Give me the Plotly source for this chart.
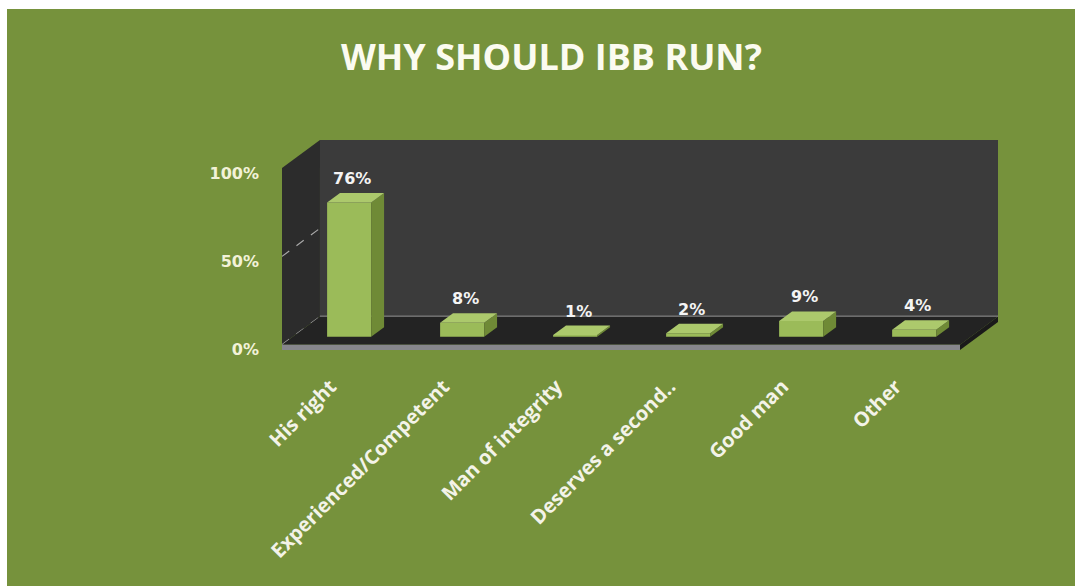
import plotly.graph_objects as go

# Survey answers and their shares (percent)
categories = ["His right", "Experienced/Competent", "Man of integrity",
              "Deserves a second..", "Good man", "Other"]
shares = [76, 8, 1, 2, 9, 4]
value_labels = ["76%", "8%", "1%", "2%", "9%", "4%"]
y_ticks = [0, 50, 100]
y_tick_labels = ["0%", "50%", "100%"]

# Oblique projection of the 3-D box: one unit of depth moves a point
# DX category units right and DY percent units up.
DX = 0.336
DY = 15.9
BAR_W = 0.39
BAR_D0, BAR_D1 = 0.28, 0.62
FLOOR_T = 3.0
WALL_TOP = 100

GREEN_BG = "#76923C"
BACK_WALL = "#3b3b3b"
SIDE_WALL = "#2c2c2c"
FLOOR = "#232323"
FLOOR_EDGE = "#86868c"
BAR_FRONT = "#9bbb59"
BAR_SIDE = "#6f8a36"
BAR_TOP = "#acc96c"

# figure and plot-area geometry (pixels)
W, H = 1075, 586
M_L, M_R, M_T, M_B = 282, 77, 140, 236
PLOT_W = W - M_L - M_R
PLOT_H = H - M_T - M_B


def px_x(px):
    """Horizontal pixel -> paper coordinate."""
    return (px - M_L) / PLOT_W


def px_y(py):
    """Vertical pixel (from top) -> paper coordinate."""
    return (H - M_B - py) / PLOT_H


def proj(x, y, d):
    return x + d * DX, y + d * DY


def poly(points):
    pts = [proj(*p) for p in points]
    return "M " + " L ".join(f"{x:.4f},{y:.4f}" for x, y in pts) + " Z"


def face(points, color, line=None):
    return dict(type="path", xref="x", yref="y", layer="below",
                path=poly(points), fillcolor=color,
                line=line or dict(width=0))


n = len(categories)
x_lo, x_hi = -0.5, n - 0.5

shapes = [
    # white frame strips along the top and left edges
    dict(type="rect", xref="paper", yref="paper", layer="below",
         x0=px_x(0), x1=px_x(W), y0=px_y(9), y1=px_y(0),
         fillcolor="white", line=dict(width=0)),
    dict(type="rect", xref="paper", yref="paper", layer="below",
         x0=px_x(0), x1=px_x(7), y0=px_y(H), y1=px_y(0),
         fillcolor="white", line=dict(width=0)),
]

# back wall and left side wall
shapes.append(face([(x_lo, 0, 1), (x_hi, 0, 1), (x_hi, WALL_TOP, 1), (x_lo, WALL_TOP, 1)], BACK_WALL))
shapes.append(face([(x_lo, 0, 0), (x_lo, 0, 1), (x_lo, WALL_TOP, 1), (x_lo, WALL_TOP, 0)], SIDE_WALL))

# gridlines on the side wall (dashed) and base line on the back wall
for v in y_ticks[:-1]:
    a = proj(x_lo, v, 0)
    b = proj(x_lo, v, 1)
    shapes.append(dict(type="line", xref="x", yref="y", layer="below",
                       x0=a[0], y0=a[1], x1=b[0], y1=b[1],
                       line=dict(color="#a8a8a8", width=1.2, dash="dash")))
a = proj(x_lo, 0, 1)
b = proj(x_hi, 0, 1)
shapes.append(dict(type="line", xref="x", yref="y", layer="below",
                   x0=a[0], y0=a[1], x1=b[0], y1=b[1],
                   line=dict(color="#b8b8b8", width=1.5)))

# floor slab: top, front edge, right edge
shapes.append(face([(x_lo, 0, 0), (x_hi, 0, 0), (x_hi, 0, 1), (x_lo, 0, 1)], FLOOR))
shapes.append(face([(x_lo, 0, 0), (x_hi, 0, 0), (x_hi, -FLOOR_T, 0), (x_lo, -FLOOR_T, 0)], FLOOR_EDGE))
shapes.append(face([(x_hi, 0, 0), (x_hi, 0, 1), (x_hi, -FLOOR_T, 1), (x_hi, -FLOOR_T, 0)], "#1a1a1a"))

# bars: front, right side, top
annotations = []
for i, (v, lab) in enumerate(zip(shares, value_labels)):
    x0, x1 = i - BAR_W / 2, i + BAR_W / 2
    shapes.append(face([(x0, 0, BAR_D0), (x1, 0, BAR_D0), (x1, v, BAR_D0), (x0, v, BAR_D0)], BAR_FRONT))
    shapes.append(face([(x1, 0, BAR_D0), (x1, 0, BAR_D1), (x1, v, BAR_D1), (x1, v, BAR_D0)], BAR_SIDE))
    shapes.append(face([(x0, v, BAR_D0), (x1, v, BAR_D0), (x1, v, BAR_D1), (x0, v, BAR_D1)], BAR_TOP))
    _, ly = proj(i, v, BAR_D1)
    lx = i + (BAR_D0 + BAR_D1) / 2 * DX - 0.03
    annotations.append(dict(x=lx, y=ly, xref="x", yref="y", text=lab,
                            showarrow=False, yanchor="bottom", yshift=3,
                            font=dict(family="DejaVu Sans", size=16,
                                      color="#f4f4f4", weight="bold")))

annotations.append(dict(x=px_x(551), y=px_y(56), xref="paper", yref="paper",
                        text="WHY SHOULD IBB RUN?", showarrow=False,
                        xanchor="center", yanchor="middle",
                        font=dict(family="Open Sans", size=36, color="#fbfbf0",
                                  weight="bold")))

fig = go.Figure()
# invisible anchor trace so both axes are laid out
fig.add_trace(go.Scatter(x=[x_lo, x_hi + DX], y=[-FLOOR_T, WALL_TOP + DY],
                         mode="markers", marker=dict(opacity=0),
                         hoverinfo="skip", showlegend=False))

fig.update_layout(
    width=W, height=H,
    margin=dict(l=M_L, r=M_R, t=M_T, b=M_B),
    paper_bgcolor=GREEN_BG,
    plot_bgcolor="rgba(0,0,0,0)",
    shapes=shapes,
    annotations=annotations,
    showlegend=False,
    xaxis=dict(range=[x_lo, x_hi + DX], tickmode="array",
               tickvals=[i - 0.07 for i in range(n)], ticktext=categories,
               tickangle=-45, showgrid=False, zeroline=False, showline=False,
               ticks="", ticklabelstandoff=20,
               tickfont=dict(family="Open Sans", size=20, color="#f3f3e8",
                             weight="bold"),
               fixedrange=True),
    yaxis=dict(range=[-FLOOR_T, WALL_TOP + DY], tickmode="array",
               tickvals=y_ticks, ticktext=y_tick_labels,
               showgrid=False, zeroline=False, showline=False,
               ticks="", ticklabelstandoff=22, ticklabelshift=5,
               tickfont=dict(family="DejaVu Sans", size=16, color="#f2f2d8",
                             weight="bold"),
               fixedrange=True),
)

fig.write_html("out.html")
